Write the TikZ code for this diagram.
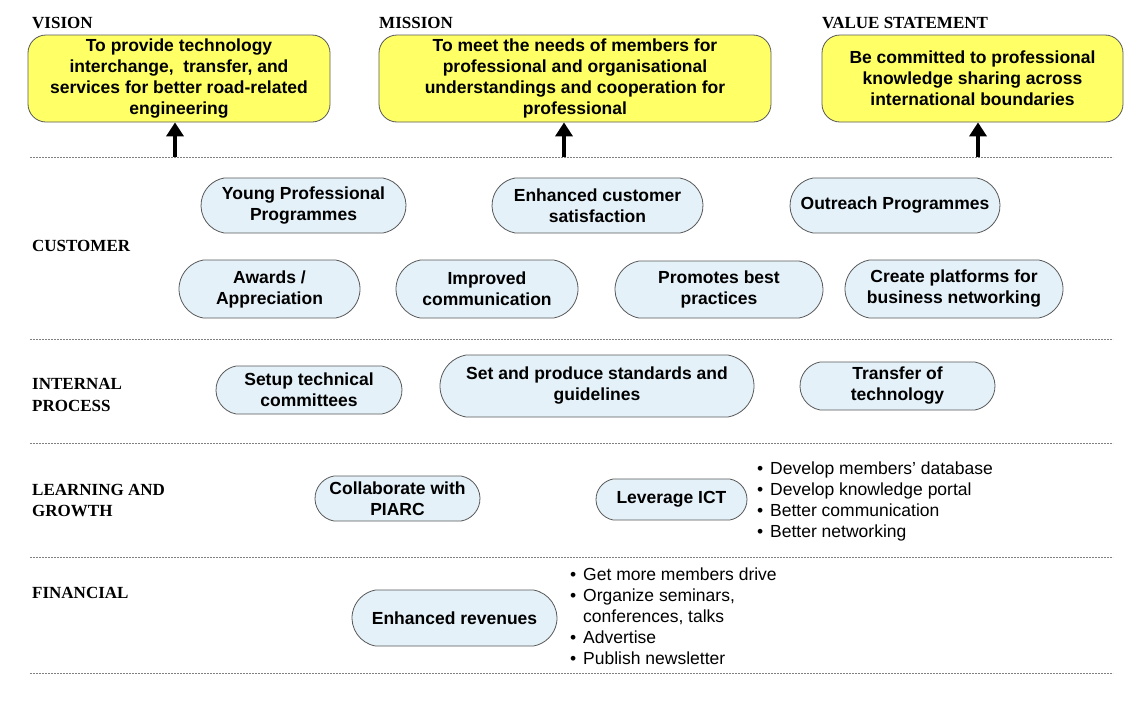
\documentclass[tikz,border=0pt]{standalone}
\usepackage{fontspec}
\setmainfont{Liberation Serif}
\newfontfamily\arialf{Liberation Sans}
\usetikzlibrary{arrows.meta,shapes.misc}
\definecolor{boxyellow}{HTML}{FFFF66}
\definecolor{pillblue}{HTML}{E4F1F8}
\definecolor{edgegray}{HTML}{585858}
\definecolor{sepgray}{HTML}{808080}
\begin{document}
\begin{tikzpicture}[x=1pt,y=-1pt,
  ybox/.style={draw=edgegray, fill=boxyellow, rounded corners=18pt, line width=0.8pt,
    align=center, font=\arialf\bfseries\fontsize{17.5}{21}\selectfont, inner sep=0pt},
  pill/.style={draw=edgegray, fill=pillblue, line width=0.8pt, rounded rectangle,
    rounded rectangle arc length=160, align=center,
    font=\arialf\bfseries\fontsize{17.5}{21}\selectfont, inner sep=0pt},
  hdr/.style={anchor=base west, font=\bfseries\fontsize{17}{21}\selectfont, inner sep=0pt},
  sepline/.style={draw=sepgray, dash pattern=on 2pt off 1pt, line width=0.7pt},
  bul/.style={anchor=base west, font=\arialf\fontsize{17.5}{21}\selectfont, inner sep=0pt},
  uparrow/.style={line width=4.5pt, -{Triangle[width=17pt,length=14pt]}}
]
\useasboundingbox (0,0) rectangle (1142,707);

% separators
\foreach \yy in {157,339,443,557,673}
  \draw[sepline] (30,\yy) -- (1113,\yy);

% headers
\node[hdr] (hv) at (32,28) {VISION};
\node[hdr] (hm) at (379,28) {MISSION};
\node[hdr] (hs) at (822,28) {VALUE STATEMENT};

% yellow boxes
\node[ybox, minimum width=302pt, minimum height=87pt] (vision) at (179,78.5)
  {To provide technology\\interchange,\ \ transfer, and\\services for better road-related\\engineering};
\node[ybox, minimum width=392pt, minimum height=87pt] (mission) at (575,78.5)
  {To meet the needs of members for\\professional and organisational\\understandings and cooperation for\\professional};
\node[ybox, minimum width=301pt, minimum height=87pt] (value) at (972.5,78.5)
  {Be committed to professional\\knowledge sharing across\\international boundaries};

% arrows
\coordinate (va) at (175,157);
\coordinate (ma) at (564,157);
\coordinate (sa) at (978,157);
\draw[uparrow] (va) -- (va |- vision.south);
\draw[uparrow] (ma) -- (ma |- mission.south);
\draw[uparrow] (sa) -- (sa |- value.south);

% row labels
\node[hdr] (lc) at (32,251) {CUSTOMER};
\node[hdr] (li1) at (32,389) {INTERNAL};
\node[hdr] (li2) at (32,411) {PROCESS};
\node[hdr] (ll1) at (32,495) {LEARNING AND};
\node[hdr] (ll2) at (32,516) {GROWTH};
\node[hdr] (lf) at (32,598) {FINANCIAL};

% customer
\node[pill, minimum width=205pt, minimum height=55pt] (yp) at (303.5,205.5) {Young Professional\\Programmes};
\node[pill, minimum width=211pt, minimum height=55pt] (ecs) at (597.5,205.5) {Enhanced customer\\satisfaction};
\node[pill, minimum width=210pt, minimum height=55pt] (out) at (895,205.5) {Outreach Programmes};
\node[pill, minimum width=181pt, minimum height=58pt] (aw) at (269.5,289) {Awards /\\Appreciation};
\node[pill, minimum width=182pt, minimum height=58pt] (ic) at (487,289) {Improved\\communication};
\node[pill, minimum width=208pt, minimum height=57pt] (pb) at (719,289.5) {Promotes best\\practices};
\node[pill, minimum width=218pt, minimum height=58pt] (cp) at (954,289) {Create platforms for\\business networking};

% internal process
\node[pill, minimum width=186pt, minimum height=48pt] (stc) at (309,390) {Setup technical\\committees};
\node[pill, minimum width=314pt, minimum height=62pt] (sps) at (597,386) {Set and produce standards and\\guidelines};
\node[pill, minimum width=195pt, minimum height=48pt] (tt) at (897.5,386) {Transfer of\\technology};

% learning and growth
\node[pill, minimum width=165pt, minimum height=45pt] (cw) at (397.5,498.5) {Collaborate with\\PIARC};
\node[pill, minimum width=151pt, minimum height=41pt] (ict) at (671.5,499.5) {Leverage ICT};
\foreach \t [count=\i from 0] in {Develop members’ database,Develop knowledge portal,Better communication,Better networking}{
  \node[bul] (ictb\i) at (757,474+21.3*\i) {\textbullet};
  \node[bul] (ictt\i) at (770,474+21.3*\i) {\t};
}

% financial
\node[pill, minimum width=205pt, minimum height=56pt] (er) at (454.5,618) {Enhanced revenues};
\node[bul] (fb0) at (570,580) {\textbullet};
\node[bul] (ft0) at (583,580) {Get more members drive};
\node[bul] (fb1) at (570,601) {\textbullet};
\node[bul] (ft1) at (583,601) {Organize seminars,};
\node[bul] (ft1b) at (583,622) {conferences, talks};
\node[bul] (fb2) at (570,643) {\textbullet};
\node[bul] (ft2) at (583,643) {Advertise};
\node[bul] (fb3) at (570,664) {\textbullet};
\node[bul] (ft3) at (583,664) {Publish newsletter};
\end{tikzpicture}
\end{document}
